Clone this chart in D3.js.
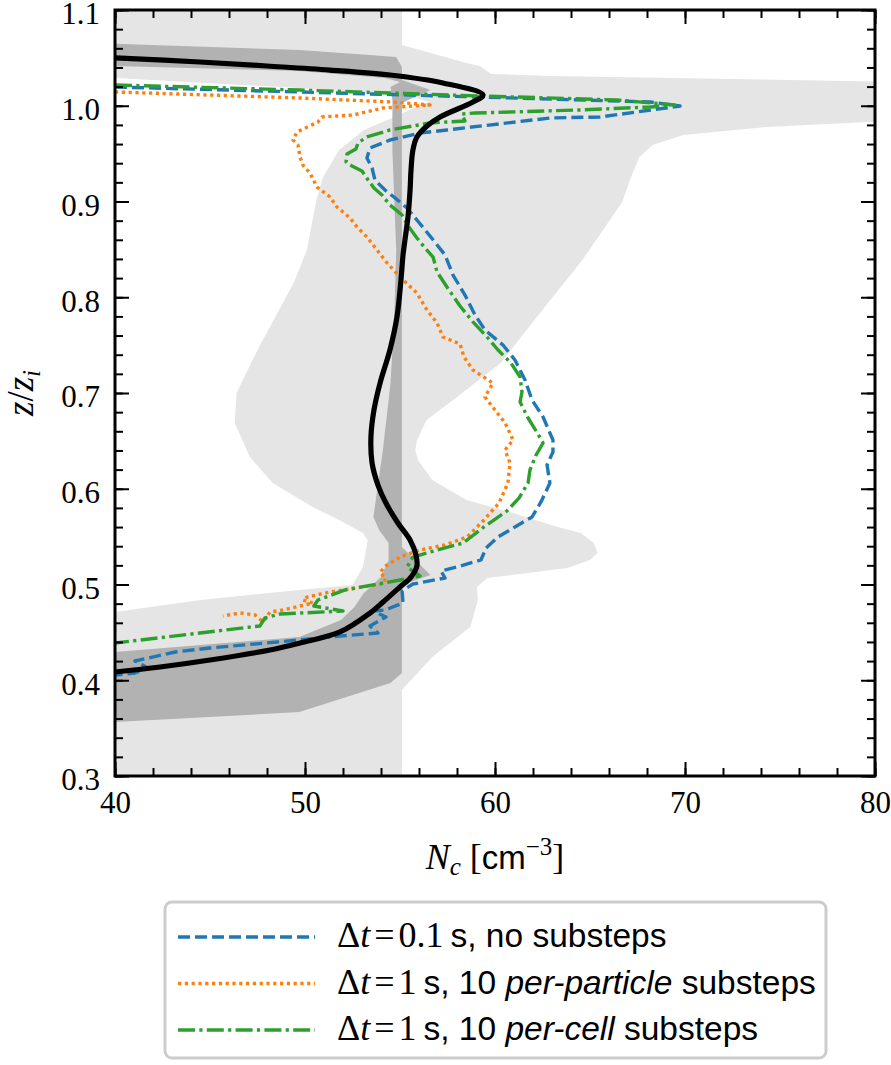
<!DOCTYPE html>
<html><head><meta charset="utf-8">
<script src="https://cdn.jsdelivr.net/npm/d3@7/dist/d3.min.js"></script>
<style>body{margin:0;background:#fff}svg{display:block}</style>
</head><body>
<script>
// ---------- data ----------
const xTicksMajor = [40, 50, 60, 70, 80];
const yTicksMajor = [0.3, 0.4, 0.5, 0.6, 0.7, 0.8, 0.9, 1.0, 1.1];
const yTickLabels = ["0.3","0.4","0.5","0.6","0.7","0.8","0.9","1.0","1.1"];

// light grey envelope: right (max) and left (min) edges
const lightMaxZ = [1.12,1.0634,1.0446,1.0415,1.0332,1.0311,1.0238,0.9851,0.9830,0.9778,0.9695,0.9590,0.9465,0.9225,0.8995,0.8389,0.7794,0.7313,0.6958,0.6718,0.6509,0.6405,0.6300,0.6091,0.5883,0.5747,0.5601,0.5538,0.5433,0.5329,0.5256,0.5172,0.5068,0.4974,0.4838,0.4556,0.4243,0.3898,0.28];
const lightMaxN = [55.1,55.1,58.5,59.2,59.8,62.9,85,85,79.6,74.3,69.9,68.3,67.6,67.1,66.7,64.6,62.2,60.3,58.0,56.4,55.9,55.8,55.95,56.7,58.5,60.95,63.3,64.5,65.2,65.4,65.0,63.8,59.6,59.05,59.1,58.7,56.7,55.1,55.1];
const lightMinZ = [1.12,1.0311,1.0290,1.0185,1.0102,1.0039,0.9956,0.9883,0.9747,0.9538,0.9256,0.9016,0.8493,0.8149,0.7449,0.7000,0.6687,0.6332,0.6060,0.5809,0.5674,0.5538,0.5465,0.5183,0.4995,0.4943,0.4838,0.4713,0.4692,0.28];
const lightMinN = [30,30,40,49.7,55.5,56.5,55.5,54.7,53.1,51.8,50.95,50.6,50.1,49.4,47.5,46.4,46.3,47.1,48.3,50.4,51.8,53.05,53.3,53.05,52.5,49.7,44.5,40,30,30];

// dark grey envelope
const darkMaxZ = [1.0655,1.0582,1.0530,1.0509,1.0405,1.0269,1.0164,1.0029,0.5392,0.5099,0.4995,0.4076,0.3971,0.3668,0.3564,0.3553];
const darkMaxN = [39,49.7,53.4,54.8,55.1,55.1,56.6,55.1,55.1,56.6,55.1,55.1,54.5,49.7,40,39];
const darkMinZ = [1.0655,1.0426,1.0415,1.0363,1.0290,1.0248,1.0196,1.0060,0.9538,0.8493,0.7794,0.7104,0.6405,0.5987,0.5705,0.5569,0.5433,0.5256,0.5078,0.4911,0.4765,0.4629,0.4452,0.4295,0.4285,0.3553];
const darkMinN = [30,30,40,49.7,54.2,55.0,54.5,54.6,54.6,54.8,54.7,54.5,54.1,53.8,53.6,53.9,54.4,54.4,54.0,53.1,52.6,51.9,49.7,40,30,30];

// reference (black) profile
const refZ = [1.0499,1.0457,1.0415,1.0373,1.0321,1.0238,1.0112,1.0039,0.9883,0.9789,0.9674,0.9538,0.9329,0.9120,0.8838,0.8598,0.8441,0.8180,0.7794,0.7449,0.7104,0.6822,0.6540,0.6269,0.6039,0.5851,0.5642,0.5465,0.5308,0.5193,0.5078,0.4974,0.4817,0.4702,0.4504,0.4389,0.4316,0.4211,0.4138,0.4086];
const refN = [40,44.47,48.0,51.32,54.47,57.26,59.37,58.84,57.11,56.42,55.89,55.68,55.58,55.53,55.42,55.26,55.16,55.05,54.84,54.47,53.95,53.63,53.47,53.53,53.84,54.26,54.89,55.53,55.84,55.89,55.58,55.0,54.11,53.42,51.84,49.74,48.16,45.0,42.37,40];

// dt = 0.1 s, no substeps (blue)
const blueZ = [1.0196,1.0144,1.0091,1.0039,0.9997,0.9883,0.9872,0.9747,0.9715,0.9642,0.9559,0.9454,0.9350,0.9225,0.9120,0.9037,0.8932,0.8807,0.8640,0.8441,0.8232,0.8023,0.7815,0.7658,0.7501,0.7345,0.7136,0.6927,0.6749,0.6509,0.6384,0.6248,0.6060,0.5862,0.5705,0.5601,0.5496,0.5381,0.5256,0.5183,0.5141,0.5068,0.5005,0.4932,0.4807,0.4734,0.4723,0.4661,0.4567,0.4493,0.4462,0.4399,0.4337,0.4295,0.4201,0.4128,0.4076,0.4055];
const blueN = [40,49.74,59.21,68.16,69.74,65.53,62.89,57.47,56.05,54.47,53.42,53.26,53.53,53.68,54.21,54.74,55.37,55.89,56.58,57.37,57.79,58.42,58.95,59.47,60.42,61.05,61.58,61.95,62.53,63.05,63.05,62.74,62.89,62.42,61.95,61.05,60.16,59.53,59.26,58.0,57.16,57.37,55.68,55.11,55.16,54.21,53.58,54.26,53.42,53.84,51.84,48.53,45.0,43.16,41.05,41.74,41.05,40];

// dt = 1 s, per-particle substeps (orange)
const orangeZ = [1.0144,1.0081,1.0039,1.0008,0.9977,0.9903,0.9883,0.9830,0.9726,0.9642,0.9590,0.9465,0.9381,0.9298,0.9151,0.9047,0.8943,0.8828,0.8734,0.8629,0.8493,0.8358,0.8212,0.8044,0.7867,0.7731,0.7585,0.7512,0.7376,0.7240,0.7104,0.6958,0.6822,0.6687,0.6509,0.6405,0.6269,0.6060,0.5851,0.5674,0.5496,0.5413,0.5360,0.5287,0.5183,0.5120,0.5068,0.5005,0.4974,0.4922,0.4869,0.4838,0.4807,0.4734,0.4713,0.4609,0.4682,0.4703,0.4671];
const orangeN = [40,49.74,54.63,56.58,54.11,52.53,50.89,50.68,49.58,49.37,49.63,49.74,49.89,50.26,50.63,51.32,51.68,52.37,52.74,53.26,53.79,54.32,55.0,55.89,56.42,56.95,57.26,58.16,58.37,58.84,59.89,59.47,60.0,60.53,60.95,60.53,60.79,60.68,60.21,59.42,58.53,57.37,56.05,55.0,54.16,53.95,54.26,54.11,53.05,51.32,50.11,49.89,50.42,48.84,48.16,47.79,47.37,46.58,45.68];

// dt = 1 s, per-cell substeps (green)
const greenZ = [1.0217,1.0164,1.0112,1.0060,1.0008,0.9987,0.9956,0.9924,0.9914,0.9841,0.9820,0.9747,0.9674,0.9611,0.9548,0.9496,0.9413,0.9371,0.9319,0.9225,0.9141,0.9068,0.8963,0.8859,0.8734,0.8619,0.8514,0.8420,0.8264,0.8107,0.7909,0.7742,0.7585,0.7449,0.7313,0.7167,0.7010,0.6906,0.6739,0.6572,0.6478,0.6352,0.6196,0.6060,0.5903,0.5768,0.5601,0.5433,0.5360,0.5287,0.5183,0.5089,0.5047,0.4943,0.4838,0.4775,0.4723,0.4692,0.4650,0.4567,0.4493,0.4389];
const greenN = [40,49.74,57.63,66.42,69.47,68.16,64.47,58.95,58.26,58.42,56.58,54.47,53.26,52.79,52.68,52.21,52.16,52.47,53.0,53.32,53.63,54.05,54.47,55.11,55.47,55.89,56.32,56.74,56.95,57.47,58.16,58.84,59.58,60.16,60.84,61.32,61.42,61.32,61.74,62.26,62.53,62.16,61.84,61.74,61.26,60.63,59.42,58.32,56.95,55.68,55.37,56.05,55.0,52.11,50.68,50.47,52.0,48.68,47.89,47.63,44.47,40];

const legendLabels = [
  {math:"0.1", rest:[["s, no substeps",false]]},
  {math:"1", rest:[["s, 10 ",false],["per-particle",true],[" substeps",false]]},
  {math:"1", rest:[["s, 10 ",false],["per-cell",true],[" substeps",false]]}
];

// ---------- drawing ----------
const W = 891, H = 1065;
const L = 115, R = 875, T = 10, B = 776;
const SERIF = "'Liberation Serif','DejaVu Serif',serif";
const SANS = "'Liberation Sans','DejaVu Sans',sans-serif";

const svg = d3.select("body").append("svg").attr("width", W).attr("height", H);
const x = d3.scaleLinear().domain([40, 80]).range([L, R]);
const y = d3.scaleLinear().domain([0.3, 1.1]).range([B, T]);

svg.append("clipPath").attr("id", "clip").append("rect")
  .attr("x", L).attr("y", T).attr("width", R - L).attr("height", B - T);
const plot = svg.append("g").attr("clip-path", "url(#clip)");

const zip = (N, Z) => N.map((n, i) => [n, Z[i]]);
const line = d3.line().x(d => x(d[0])).y(d => y(d[1]));

function band(maxN, maxZ, minN, minZ, fill) {
  const pts = zip(maxN, maxZ).concat(zip(minN, minZ).reverse());
  plot.append("path").attr("d", line(pts) + "Z").attr("fill", fill).attr("stroke", "none");
}
band(lightMaxN, lightMaxZ, lightMinN, lightMinZ, "#e5e5e5");
band(darkMaxN, darkMaxZ, darkMinN, darkMinZ, "#b2b2b2");

function series(N, Z, color, width, dash, curve) {
  const g = d3.line().x(d => x(d[0])).y(d => y(d[1])).curve(curve || d3.curveLinear);
  plot.append("path").attr("d", g(zip(N, Z))).attr("fill", "none")
    .attr("stroke", color).attr("stroke-width", width)
    .attr("stroke-dasharray", dash || null).attr("stroke-linejoin", "round");
}
const styles = [
  {c:"#1f77b4", d:"12,5"},
  {c:"#ff7f0e", d:"3.2,3.6"},
  {c:"#2ca02c", d:"17,4.3,3.2,4.3"}
];
series(blueN, blueZ, styles[0].c, 3.4, styles[0].d);
series(orangeN, orangeZ, styles[1].c, 3.4, styles[1].d);
series(greenN, greenZ, styles[2].c, 3.4, styles[2].d);
series(refN, refZ, "#000", 5.2, null, d3.curveCatmullRom.alpha(0.5));

// ---------- axes ----------
const xMinor = d3.range(40, 80.01, 2);
const yMinor = d3.range(0.3, 1.1001, 0.02);
function axisG(axis, tx, ty) {
  const g = svg.append("g").attr("transform", `translate(${tx},${ty})`).call(axis);
  g.select(".domain").remove();
  g.selectAll(".tick line").attr("stroke", "#000").attr("stroke-width", 2);
  return g;
}
const xb = axisG(d3.axisBottom(x).tickValues(xTicksMajor).tickSize(-14).tickPadding(10).tickFormat(d3.format("d")), 0, B);
axisG(d3.axisTop(x).tickValues(xTicksMajor).tickSize(-14).tickFormat(""), 0, T);
const yl = axisG(d3.axisLeft(y).tickValues(yTicksMajor).tickSize(-14).tickPadding(15).tickFormat((d, i) => yTickLabels[i]), L, 0);
axisG(d3.axisRight(y).tickValues(yTicksMajor).tickSize(-14).tickFormat(""), R, 0);
axisG(d3.axisBottom(x).tickValues(xMinor).tickSize(-8).tickFormat(""), 0, B);
axisG(d3.axisTop(x).tickValues(xMinor).tickSize(-8).tickFormat(""), 0, T);
axisG(d3.axisLeft(y).tickValues(yMinor).tickSize(-8).tickFormat(""), L, 0);
axisG(d3.axisRight(y).tickValues(yMinor).tickSize(-8).tickFormat(""), R, 0);

svg.selectAll(".tick text").attr("font-family", SERIF).attr("font-size", 31).attr("fill", "#000");
xb.selectAll(".tick text").attr("dy", "0.88em");
yl.selectAll(".tick text").attr("dy", "0.45em");

svg.append("rect").attr("x", L).attr("y", T).attr("width", R - L).attr("height", B - T)
  .attr("fill", "none").attr("stroke", "#000").attr("stroke-width", 3);

// x label: N_c [cm^-3]
const xl = svg.append("text").attr("x", x(60)).attr("y", 869).attr("text-anchor", "middle")
  .attr("font-family", SERIF).attr("font-size", 36).attr("fill", "#000");
xl.append("tspan").attr("font-style", "italic").text("N");
xl.append("tspan").attr("font-style", "italic").attr("font-size", 25).attr("dy", 6).text("c");
xl.append("tspan").attr("dy", -6).text(" [");
xl.append("tspan").attr("font-family", SANS).attr("font-size", 33).text("cm");
xl.append("tspan").attr("font-size", 25).attr("dy", -14).text("−3");
xl.append("tspan").attr("dy", 14).text("]");

// y label: z/z_i
const ylab = svg.append("text").attr("transform", `translate(33,${(T + B) / 2}) rotate(-90)`)
  .attr("text-anchor", "middle").attr("font-family", SERIF).attr("font-size", 37).attr("fill", "#000");
ylab.append("tspan").attr("font-style", "italic").text("z");
ylab.append("tspan").text("/");
ylab.append("tspan").attr("font-style", "italic").text("z");
ylab.append("tspan").attr("font-style", "italic").attr("font-size", 25).attr("dy", 7).text("i");

// ---------- legend ----------
const lg = svg.append("g");
lg.append("rect").attr("x", 165).attr("y", 902).attr("width", 661).attr("height", 156).attr("rx", 7)
  .attr("fill", "#fff").attr("stroke", "#cccccc").attr("stroke-width", 3);
legendLabels.forEach((lab, i) => {
  const yy = 937 + i * 46.5;
  lg.append("line").attr("x1", 178).attr("x2", 315).attr("y1", yy).attr("y2", yy)
    .attr("stroke", styles[i].c).attr("stroke-width", 3.4).attr("stroke-dasharray", styles[i].d);
  const t = lg.append("text").attr("x", 337).attr("y", yy + 10).attr("fill", "#000").attr("font-size", 36);
  t.append("tspan").attr("font-family", SERIF).text("Δ");
  t.append("tspan").attr("font-family", SERIF).attr("font-style", "italic").text("t");
  t.append("tspan").attr("font-family", SERIF).attr("dx", 4).text("=");
  t.append("tspan").attr("font-family", SERIF).attr("dx", 4).text(lab.math);
  lab.rest.forEach((r, k) => {
    t.append("tspan").attr("font-family", SANS).attr("font-size", 33.5)
      .attr("dx", k === 0 ? 7 : 0)
      .attr("font-style", r[1] ? "italic" : null).text(r[0]);
  });
});
</script>
</body></html>
